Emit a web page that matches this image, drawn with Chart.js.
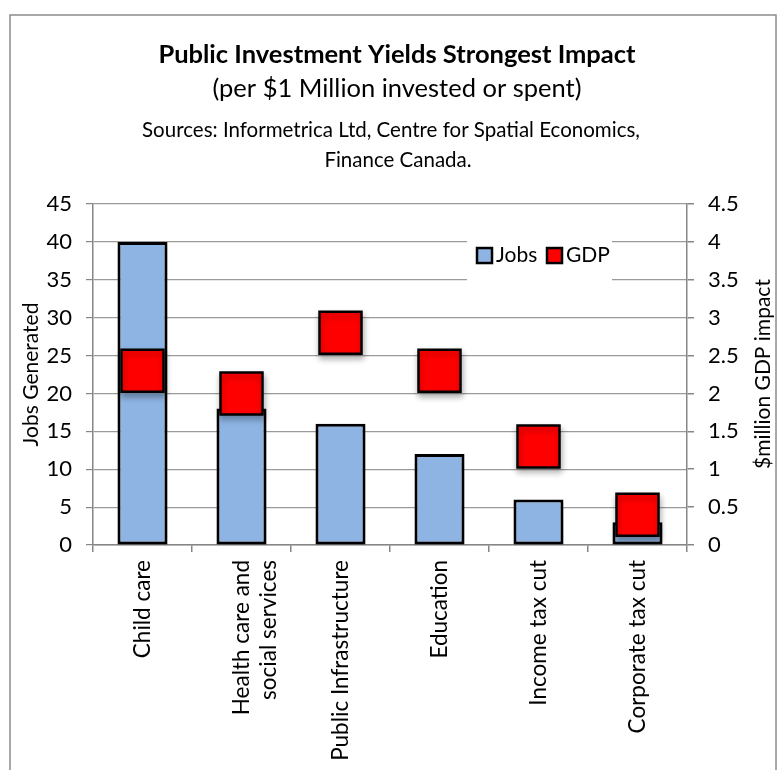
<!DOCTYPE html>
<html>
<head>
<meta charset="utf-8">
<script src="https://cdn.jsdelivr.net/npm/chart.js@4.4.1/dist/chart.umd.min.js"></script>
<style>
  html, body { margin: 0; padding: 0; background: #ffffff; }
  #wrap { width: 784px; height: 770px; }
</style>
</head>
<body>
<div id="wrap"><canvas id="c" width="784" height="770"></canvas></div>
<script>
// ---- Data ----
const categories = ["Child care", ["Health care and", "social services"], "Public Infrastructure", "Education", "Income tax cut", "Corporate tax cut"];
const jobs = [40, 18, 16, 12, 6, 3];
const gdp = [2.3, 2.0, 2.8, 2.3, 1.3, 0.4];
const jobsTicks = [0, 5, 10, 15, 20, 25, 30, 35, 40, 45];
const gdpTicks = [0, 0.5, 1, 1.5, 2, 2.5, 3, 3.5, 4, 4.5];
const seriesNames = ["Jobs", "GDP"];
const titleText = "Public Investment Yields Strongest Impact";
const subtitleText = "(per $1 Million invested or spent)";
const sourceLines = ["Sources: Informetrica Ltd, Centre for Spatial Economics,", "Finance Canada."];
const leftAxisTitle = "Jobs Generated";
const rightAxisTitle = "$million GDP impact";

const FONT = "Lato, 'Open Sans', sans-serif";
const BLUE = "#8EB4E3";
const RED = "#FF0000";
const AXIS = "#868686";

const decor = {
  id: 'decor',
  beforeDraw(chart) {
    const ctx = chart.ctx;
    ctx.save();
    ctx.fillStyle = '#fff';
    ctx.fillRect(0, 0, chart.width, chart.height);
    ctx.strokeStyle = '#8c8c8c';
    ctx.lineWidth = 1.5;
    ctx.strokeRect(10, 15, 766, 800);
    ctx.fillStyle = '#000';
    ctx.textAlign = 'center';
    ctx.textBaseline = 'middle';
    ctx.font = "bold 25.5px " + FONT;
    ctx.fillText(titleText, 397, 55);
    ctx.font = "25.5px " + FONT;
    ctx.fillText(subtitleText, 397, 89);
    ctx.font = "20.5px " + FONT;
    ctx.fillText(sourceLines[0], 391, 130);
    ctx.fillText(sourceLines[1], 398, 160);
    // right axis title, reading bottom-to-top
    ctx.translate(763, 374);
    ctx.rotate(-Math.PI / 2);
    ctx.font = "21px " + FONT;
    ctx.fillText(rightAxisTitle, 0, 0);
    ctx.restore();
  },
  beforeDatasetsDraw(chart) {
    const ctx = chart.ctx;
    const ys = chart.scales.y;
    ctx.save();
    // legend box (white, covering grid lines)
    const top = ys.getPixelForValue(41.5);
    const bottom = ys.getPixelForValue(34.2);
    ctx.fillStyle = '#fff';
    ctx.fillRect(467, top, 145, bottom - top);
    const cy = ys.getPixelForValue(38.2);
    ctx.lineWidth = 2.5;
    ctx.strokeStyle = '#000';
    ctx.fillStyle = BLUE;
    ctx.fillRect(477, cy - 7.5, 15, 15);
    ctx.strokeRect(477, cy - 7.5, 15, 15);
    ctx.fillStyle = RED;
    ctx.fillRect(547, cy - 7.5, 15, 15);
    ctx.strokeRect(547, cy - 7.5, 15, 15);
    ctx.fillStyle = '#000';
    ctx.font = "21px " + FONT;
    ctx.textAlign = 'left';
    ctx.textBaseline = 'middle';
    ctx.fillText(seriesNames[0], 496, cy);
    ctx.fillText(seriesNames[1], 566, cy);
    ctx.restore();
  },
  beforeDatasetDraw(chart) {
    const ctx = chart.ctx;
    ctx.save();
    ctx.shadowColor = 'rgba(0,0,0,0.28)';
    ctx.shadowBlur = 6;
    ctx.shadowOffsetX = 1;
    ctx.shadowOffsetY = 4;
  },
  afterDatasetDraw(chart) {
    chart.ctx.restore();
  }
};

new Chart(document.getElementById('c'), {
  data: {
    labels: categories,
    datasets: [
      {
        type: 'line',
        label: seriesNames[1],
        data: gdp,
        yAxisID: 'y1',
        showLine: false,
        pointStyle: 'rect',
        pointRadius: 29.7,
        pointHoverRadius: 29.7,
        pointBackgroundColor: RED,
        pointBorderColor: '#000',
        pointBorderWidth: 2.5,
        backgroundColor: RED,
        borderColor: '#000',
        order: 0
      },
      {
        type: 'bar',
        label: seriesNames[0],
        data: jobs,
        yAxisID: 'y',
        backgroundColor: BLUE,
        borderColor: '#000',
        borderWidth: 3,
        borderSkipped: false,
        categoryPercentage: 1,
        barPercentage: 0.505,
        order: 1
      }
    ]
  },
  options: {
    responsive: false,
    animation: false,
    events: [],
    layout: { padding: { top: 204, left: 0, right: 0, bottom: 0 } },
    plugins: {
      legend: { display: false },
      title: { display: false },
      tooltip: { enabled: false }
    },
    scales: {
      x: {
        type: 'category',
        offset: true,
        afterFit(s) { s.height = 225; },
        grid: { offset: true, drawOnChartArea: false, drawTicks: true, tickLength: 7, color: AXIS, lineWidth: 1.5 },
        border: { display: true, color: AXIS, width: 1.5 },
        ticks: { color: '#000', font: { family: FONT, size: 22.5 }, minRotation: 90, maxRotation: 90, padding: 8, autoSkip: false }
      },
      y: {
        type: 'linear',
        position: 'left',
        min: 0, max: 45,
        afterFit(s) { s.width = 93; },
        afterBuildTicks(s) { s.ticks = jobsTicks.map(v => ({ value: v })); },
        grid: { color: '#9a9a9a', lineWidth: 1.2, borderDash: [2, 2], tickBorderDash: [], tickColor: AXIS, tickLength: 7, drawTicks: true },
        border: { display: true, color: AXIS, width: 1.5 },
        ticks: { color: '#000', font: { family: FONT, size: 22 }, padding: 14, callback: v => String(v) },
        title: { display: true, text: leftAxisTitle, color: '#000', font: { family: FONT, size: 21 }, padding: { top: 19, bottom: 0 } }
      },
      y1: {
        type: 'linear',
        position: 'right',
        min: 0, max: 4.5,
        afterFit(s) { s.width = 97; },
        afterBuildTicks(s) { s.ticks = gdpTicks.map(v => ({ value: v })); },
        grid: { drawOnChartArea: false, drawTicks: true, tickLength: 7, color: AXIS, lineWidth: 1.5 },
        border: { display: true, color: AXIS, width: 1.5 },
        ticks: { color: '#000', font: { family: FONT, size: 22 }, padding: 14, callback: v => String(v) }
      }
    }
  },
  plugins: [decor]
});
</script>
</body>
</html>
